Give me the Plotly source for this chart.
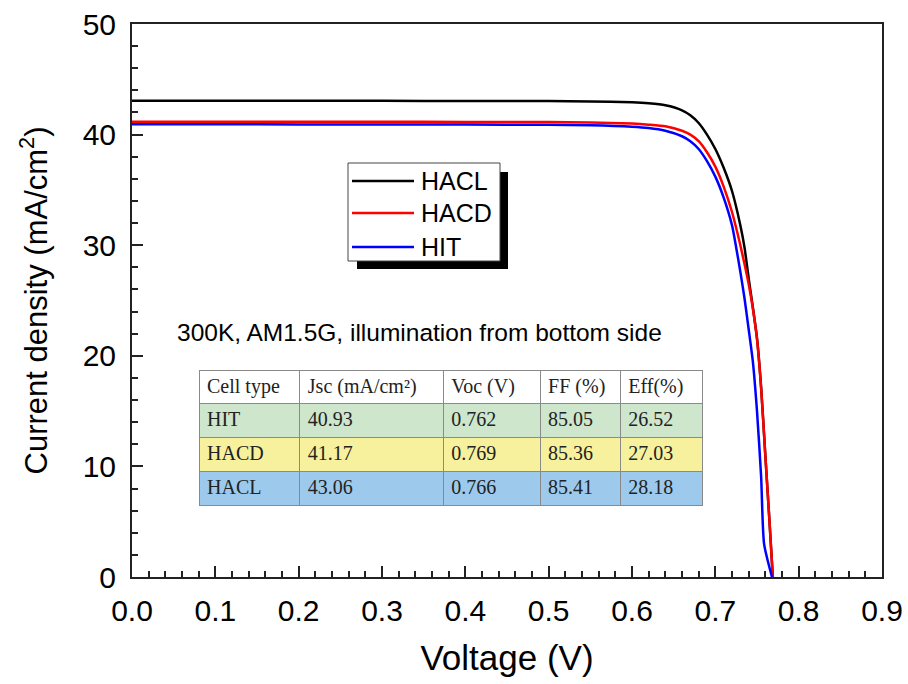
import plotly.graph_objects as go

# ---------------- data ----------------
series_names = ["HACL", "HACD", "HIT"]
series_colors = ["#000000", "#ff0000", "#0000ff"]

v_hacl = [0.0, 0.1, 0.2, 0.3, 0.4, 0.5, 0.55, 0.6, 0.62, 0.64, 0.66, 0.67, 0.68, 0.69,
          0.70, 0.71, 0.72, 0.73, 0.735, 0.74, 0.745, 0.75, 0.755, 0.76, 0.765, 0.769]
j_hacl = [43.06, 43.06, 43.05, 43.05, 43.04, 43.03, 43.0, 42.92, 42.83, 42.65, 42.2, 41.75,
          41.05, 40.0, 38.7, 37.0, 34.9, 31.8, 29.8, 27.0, 24.4, 21.6, 17.1, 11.0, 5.0, 0.0]

v_hacd = [0.0, 0.1, 0.2, 0.3, 0.4, 0.5, 0.55, 0.6, 0.62, 0.64, 0.66, 0.67, 0.68, 0.69,
          0.70, 0.71, 0.72, 0.73, 0.735, 0.74, 0.745, 0.75, 0.755, 0.76, 0.765, 0.769]
j_hacd = [41.17, 41.17, 41.16, 41.16, 41.15, 41.13, 41.1, 41.0, 40.9, 40.75, 40.35, 40.0,
          39.4, 38.4, 37.1, 35.3, 33.0, 30.0, 28.3, 26.5, 24.3, 21.5, 17.0, 11.0, 5.0, 0.0]

v_hit = [0.0, 0.1, 0.2, 0.3, 0.4, 0.5, 0.55, 0.6, 0.62, 0.64, 0.66, 0.67, 0.68, 0.69,
         0.70, 0.71, 0.72, 0.725, 0.73, 0.735, 0.74, 0.745, 0.75, 0.755, 0.7585, 0.768]
j_hit = [40.93, 40.93, 40.92, 40.92, 40.91, 40.88, 40.85, 40.72, 40.6, 40.35, 39.85, 39.4,
         38.7, 37.6, 36.2, 34.3, 31.8, 29.8, 27.6, 25.2, 22.4, 19.5, 15.0, 9.0, 3.0, 0.0]

series_v = [v_hacl, v_hacd, v_hit]
series_j = [j_hacl, j_hacd, j_hit]

table_header = ["Cell type", "Jsc (mA/cm²)", "Voc (V)", "FF (%)", "Eff(%)"]
cell_type = ["HIT", "HACD", "HACL"]
jsc = ["40.93", "41.17", "43.06"]
voc = ["0.762", "0.769", "0.766"]
ff = ["85.05", "85.36", "85.41"]
eff = ["26.52", "27.03", "28.18"]
row_colors = ["#cde6cc", "#f7f09c", "#9dcaec"]

note_text = "300K, AM1.5G, illumination from bottom side"

# ---------------- layout geometry (pixels) ----------------
W, H = 908, 684
ML, MR, MT, MB = 132, 26, 24, 107
PW, PH = W - ML - MR, H - MT - MB


def px_x(p):
    return (p - ML) / PW


def px_y(p):
    return (H - MB - p) / PH


SANS = "Liberation Sans, Arial, sans-serif"
SERIF = "Liberation Serif, Times New Roman, serif"

fig = go.Figure()

for name, col, v, j in zip(series_names, series_colors, series_v, series_j):
    fig.add_trace(go.Scatter(x=v, y=j, mode="lines", name=name,
                             line=dict(color=col, width=2.5, shape="spline", smoothing=0.6),
                             showlegend=False))

# table
fig.add_trace(go.Table(
    domain=dict(x=[px_x(199), px_x(702)], y=[px_y(530), px_y(370)]),
    columnwidth=[100.7, 143.3, 96.7, 80, 81.7],
    header=dict(values=table_header, fill_color="white", height=33, align="left",
                line=dict(color="#8a8a8a", width=1),
                font=dict(family=SERIF, size=20, color="#222222")),
    cells=dict(values=[cell_type, jsc, voc, ff, eff],
               fill_color=[row_colors] * 5, height=34, align="left",
               line=dict(color="#8a8a8a", width=1),
               font=dict(family=SERIF, size=20, color="#222222")),
))

shapes = []
annotations = []
# legend shadow and box
shapes.append(dict(type="rect", xref="paper", yref="paper",
                   x0=px_x(357), x1=px_x(508), y0=px_y(269), y1=px_y(172),
                   fillcolor="black", line=dict(width=0)))
shapes.append(dict(type="rect", xref="paper", yref="paper",
                   x0=px_x(348), x1=px_x(500), y0=px_y(261), y1=px_y(163),
                   fillcolor="white", line=dict(color="#444444", width=1)))
leg_y = [181, 213, 247]
for name, col, ly in zip(series_names, series_colors, leg_y):
    shapes.append(dict(type="line", xref="paper", yref="paper",
                       x0=px_x(352), x1=px_x(414), y0=px_y(ly), y1=px_y(ly),
                       line=dict(color=col, width=2.5)))
    annotations.append(dict(xref="paper", yref="paper", x=px_x(419), y=px_y(ly),
                            text=name, showarrow=False, xanchor="left", yanchor="middle",
                            font=dict(family=SANS, size=25, color="black")))

annotations.append(dict(xref="paper", yref="paper", x=px_x(419), y=px_y(332),
                        text=note_text, showarrow=False, xanchor="center", yanchor="middle",
                        font=dict(family=SANS, size=24.5, color="black")))

fig.update_layout(
    width=W, height=H,
    margin=dict(l=ML, r=MR, t=MT, b=MB, autoexpand=False),
    paper_bgcolor="white", plot_bgcolor="white",
    shapes=shapes, annotations=annotations,
    font=dict(family=SANS, color="black"),
)
fig.update_xaxes(
    range=[0, 0.9], dtick=0.1, tick0=0, tickformat=".1f", automargin=False,
    showgrid=False, zeroline=False,
    showline=True, linecolor="#222222", linewidth=2, mirror=True,
    ticks="inside", ticklen=11, tickwidth=1.5, tickcolor="#222222",
    minor=dict(dtick=0.02, ticks="inside", ticklen=6, tickwidth=1.5, tickcolor="#222222"),
    tickfont=dict(family=SANS, size=30, color="black"),
    ticklabelstandoff=6,
    title=dict(text="Voltage (V)", font=dict(family=SANS, size=35, color="black"), standoff=19),
)
fig.update_yaxes(
    range=[0, 50], dtick=10, tick0=0, automargin=False,
    showgrid=False, zeroline=False,
    showline=True, linecolor="#222222", linewidth=2, mirror=True,
    ticks="inside", ticklen=11, tickwidth=1.5, tickcolor="#222222",
    minor=dict(dtick=2, ticks="inside", ticklen=6, tickwidth=1.5, tickcolor="#222222"),
    tickfont=dict(family=SANS, size=30, color="black"),
    ticklabelstandoff=8,
    title=dict(text="Current density (mA/cm<sup>2</sup>)",
               font=dict(family=SANS, size=31, color="black"), standoff=26),
)

fig.write_html("out.html")
